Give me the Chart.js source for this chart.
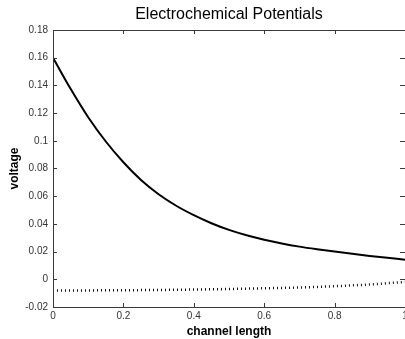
<!DOCTYPE html>
<html>
<head>
<meta charset="utf-8">
<script src="https://cdn.jsdelivr.net/npm/chart.js@4/dist/chart.umd.min.js"></script>
<style>
  html, body { margin: 0; padding: 0; background: #fff; }
  canvas { display: block; }
</style>
</head>
<body>
<canvas id="potentials" width="405" height="339"></canvas>
<script>
// positions along the channel (normalised)
const positions = [0, 0.05, 0.1, 0.15, 0.2, 0.25, 0.3, 0.35, 0.4, 0.45, 0.5,
  0.55, 0.6, 0.65, 0.7, 0.75, 0.8, 0.85, 0.9, 0.95, 1];
const upperPotential = [0.160, 0.1375, 0.117, 0.0995, 0.0845, 0.0717, 0.0614, 0.0531,
  0.0463, 0.0405, 0.0357, 0.0318, 0.0286, 0.0259, 0.0236, 0.0217, 0.0200, 0.0184,
  0.0169, 0.0155, 0.0142];

const lowerPositions = [0, 0.1, 0.2, 0.3, 0.4, 0.5, 0.6, 0.7, 0.8, 0.9, 1];
const lowerPotential = [-0.0080, -0.0080, -0.0079, -0.0077, -0.0074, -0.0070,
  -0.0065, -0.0059, -0.0050, -0.0037, -0.0019];

const xTicks = [0, 0.2, 0.4, 0.6, 0.8, 1];
const yTicks = [-0.02, 0, 0.02, 0.04, 0.06, 0.08, 0.1, 0.12, 0.14, 0.16, 0.18];

const fontFamily = '"Liberation Sans", Arial, Helvetica, sans-serif';
const TICK_LEN = 4;

const toPoints = (xs, ys) => xs.map((x, i) => ({ x, y: ys[i] }));

// matlab-style box with ticks pointing into the plot
const boxTicks = {
  id: "boxTicks",
  afterDraw(chart) {
    const { ctx, chartArea: a, scales } = chart;
    ctx.save();
    ctx.strokeStyle = "#3a3a3a";
    ctx.lineWidth = 1;
    ctx.beginPath();
    ctx.moveTo(a.left + 0.5, a.top + 0.5);
    ctx.lineTo(a.right, a.top + 0.5);
    ctx.moveTo(a.left + 0.5, a.top);
    ctx.lineTo(a.left + 0.5, a.bottom + 0.5);
    ctx.lineTo(a.right, a.bottom + 0.5);
    for (const v of xTicks) {
      const px = Math.round(scales.x.getPixelForValue(v)) + 0.5;
      ctx.moveTo(px, a.bottom);
      ctx.lineTo(px, a.bottom - TICK_LEN);
      ctx.moveTo(px, a.top);
      ctx.lineTo(px, a.top + TICK_LEN);
    }
    for (const v of yTicks) {
      const py = Math.round(scales.y.getPixelForValue(v)) + 0.5;
      ctx.moveTo(a.left, py);
      ctx.lineTo(a.left + TICK_LEN, py);
      ctx.moveTo(a.right, py);
      ctx.lineTo(a.right - TICK_LEN - 1, py);
    }
    ctx.stroke();
    ctx.restore();
  },
};

new Chart(document.getElementById("potentials"), {
  type: "line",
  data: {
    datasets: [
      {
        data: toPoints(positions, upperPotential),
        borderColor: "#000",
        borderWidth: 2,
        pointRadius: 0,
        cubicInterpolationMode: "monotone",
      },
      {
        data: toPoints(lowerPositions, lowerPotential),
        borderColor: "#111",
        borderWidth: 2.5,
        borderDash: [1, 3],
        pointRadius: 0,
        cubicInterpolationMode: "monotone",
      },
    ],
  },
  options: {
    responsive: false,
    animation: false,
    devicePixelRatio: 1,
    layout: { padding: 0 },
    plugins: {
      legend: { display: false },
      tooltip: { enabled: false },
      title: {
        display: true,
        text: "Electrochemical Potentials",
        fullSize: false,
        color: "#000",
        font: { family: fontFamily, size: 16, weight: "normal", lineHeight: 1.2 },
        padding: { top: 5, bottom: 5.8 },
      },
    },
    scales: {
      x: {
        type: "linear",
        min: 0,
        max: 1,
        afterBuildTicks(scale) {
          scale.ticks = xTicks.map((value) => ({ value }));
        },
        afterFit(scale) {
          scale.height = 32;
          scale.paddingRight = 0;
          scale.paddingLeft = 0;
        },
        grid: { display: false, drawTicks: false },
        border: { display: false },
        ticks: {
          padding: 3,
          color: "#333",
          maxRotation: 0,
          autoSkip: false,
          font: { family: fontFamily, size: 10 },
          callback: (v) => String(v),
        },
        title: {
          display: true,
          text: "channel length",
          color: "#000",
          font: { family: fontFamily, size: 12, weight: "bold", lineHeight: 1.2 },
          padding: { top: 0, bottom: 0 },
        },
      },
      y: {
        type: "linear",
        min: -0.02,
        max: 0.18,
        afterBuildTicks(scale) {
          scale.ticks = yTicks.map((value) => ({ value }));
        },
        afterFit(scale) {
          scale.width = 53;
        },
        grid: { display: false, drawTicks: false },
        border: { display: false },
        ticks: {
          padding: 5,
          color: "#333",
          autoSkip: false,
          font: { family: fontFamily, size: 10 },
          callback: (v) => String(parseFloat(Number(v).toFixed(2))),
        },
        title: {
          display: true,
          text: "voltage",
          color: "#000",
          font: { family: fontFamily, size: 12, weight: "bold", lineHeight: 1.2 },
          padding: { top: 7, bottom: 0 },
        },
      },
    },
  },
  plugins: [boxTicks],
});
</script>
</body>
</html>
